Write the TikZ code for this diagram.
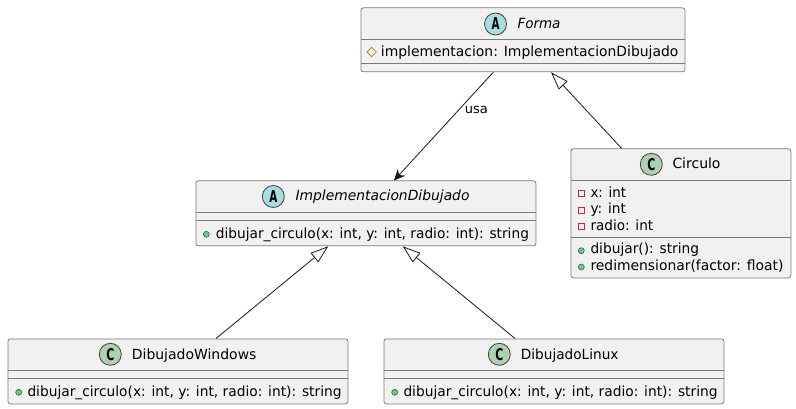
\documentclass[tikz,border=0pt]{standalone}
\usepackage{fontspec}
\usepackage{graphicx}
\setmainfont{DejaVu Sans}
\usetikzlibrary{calc,arrows.meta}
\definecolor{boxfill}{HTML}{F1F1F1}
\definecolor{boxline}{HTML}{7B7B7B}
\definecolor{absc}{HTML}{A9DCDF}
\definecolor{clsc}{HTML}{ADD1B2}
\definecolor{pubf}{HTML}{84BE84}
\definecolor{publ}{HTML}{038048}
\definecolor{privl}{HTML}{C82930}
\definecolor{protl}{HTML}{B38D22}
\definecolor{edgec}{HTML}{181818}
\newcommand{\fitw}[2]{\resizebox{#1pt}{\height}{#2}}
\newcommand{\badgeletter}[1]{\resizebox{8pt}{12pt}{\bfseries #1}}
\tikzset{
 x=1pt,y=-1pt,
 umlbox/.style={draw=boxline,fill=boxfill,line width=0.75pt,rounded corners=2.5pt,inner sep=0pt,anchor=north west},
 sepline/.style={draw=boxline,line width=0.75pt},
 badge/.style={circle,draw=black!75!white,line width=0.8pt,minimum size=22pt,inner sep=0pt},
 title/.style={font=\fontsize{14}{16}\selectfont,inner sep=0pt,anchor=base west,text=black},
 member/.style={font=\fontsize{14}{16}\selectfont,inner sep=0pt,anchor=base west,text=black},
 edge/.style={draw=edgec,line width=0.8pt},
 inherit/.style={edge,{Triangle[open,fill=white,length=18pt,width=12pt]}-},
 assoc/.style={edge,-{Stealth[length=11pt,width=10pt,inset=3.5pt]}},
 pubdot/.style={circle,draw=publ,fill=pubf,line width=0.6pt,minimum size=6pt,inner sep=0pt},
 privsq/.style={rectangle,draw=privl,line width=0.75pt,minimum size=6pt,inner sep=0pt},
 protdia/.style={draw=protl,line width=0.75pt},
}
\begin{document}
\begin{tikzpicture}
\useasboundingbox (0,0) rectangle (796,409);
% boxes
\node[umlbox,minimum width=324pt,minimum height=64pt] (forma) at (360.5,7.5) {};
\node[umlbox,minimum width=220pt,minimum height=129pt] (circulo) at (570.5,148.5) {};
\node[umlbox,minimum width=340pt,minimum height=65pt] (impl) at (195.5,180.5) {};
\node[umlbox,minimum width=340pt,minimum height=65pt] (win) at (7.5,338.5) {};
\node[umlbox,minimum width=340pt,minimum height=65pt] (lin) at (383.5,338.5) {};
% compartments
\draw[sepline] (360.5,39.5) -- (684.5,39.5) (360.5,63.5) -- (684.5,63.5);
\draw[sepline] (570.5,180.5) -- (790.5,180.5) (570.5,237.5) -- (790.5,237.5);
\draw[sepline] (195.5,212.5) -- (535.5,212.5) (195.5,220.5) -- (535.5,220.5);
\draw[sepline] (7.5,370.5) -- (347.5,370.5) (7.5,378.5) -- (347.5,378.5);
\draw[sepline] (383.5,370.5) -- (723.5,370.5) (383.5,378.5) -- (723.5,378.5);
% badges and titles
\node[badge,fill=absc] (bforma) at (495.5,24) {\badgeletter{A}};
\node[title,font=\fontsize{14}{16}\selectfont\itshape] (tforma) at (517.3,28.5) {\fitw{43}{Forma}};
\node[badge,fill=clsc] (bcirc) at (651.3,164.3) {\badgeletter{C}};
\node[title] (tcirc) at (672.3,169) {\fitw{48}{Circulo}};
\node[badge,fill=absc] (bimpl) at (273.3,196.5) {\badgeletter{A}};
\node[title,font=\fontsize{14}{16}\selectfont\itshape] (timpl) at (295.3,201) {\fitw{174}{ImplementacionDibujado}};
\node[badge,fill=clsc] (bwin) at (110.3,354.3) {\badgeletter{C}};
\node[title] (twin) at (131.7,359) {\fitw{124.5}{DibujadoWindows}};
\node[badge,fill=clsc] (blin) at (499.3,354.3) {\badgeletter{C}};
\node[title] (tlin) at (520.7,359) {\fitw{97.6}{DibujadoLinux}};
% members
\draw[protdia] (371.7,47.3) -- (376.4,52) -- (371.7,56.7) -- (367,52) -- cycle;
\node[member] (mforma) at (380.7,56.5) {\fitw{297.5}{implementacion: ImplementacionDibujado}};
\node[privsq] (p1) at (581.3,193.3) {};
\node[member] (m1) at (590.3,197) {\fitw{35.5}{x: int}};
\node[privsq] (p2) at (581.3,210) {};
\node[member] (m2) at (590.3,214) {\fitw{35.5}{y: int}};
\node[privsq] (p3) at (581.3,226.7) {};
\node[member] (m3) at (590.3,230.3) {\fitw{62.7}{radio: int}};
\node[pubdot] (p4) at (581.3,250.7) {};
\node[member] (m4) at (590.3,254) {\fitw{108.7}{dibujar(): string}};
\node[pubdot] (p5) at (581.3,267) {};
\node[member] (m5) at (590.3,270) {\fitw{193}{redimensionar(factor: float)}};
\node[pubdot] (p6) at (206.3,234.3) {};
\node[member] (m6) at (215.7,238) {\fitw{313}{dibujar\_circulo(x: int, y: int, radio: int): string}};
\node[pubdot] (p7) at (18.7,392.3) {};
\node[member] (m7) at (27.3,396) {\fitw{314}{dibujar\_circulo(x: int, y: int, radio: int): string}};
\node[pubdot] (p8) at (394.7,392.3) {};
\node[member] (m8) at (403.3,396) {\fitw{314}{dibujar\_circulo(x: int, y: int, radio: int): string}};
% connectors
\draw[assoc] ($(forma.south west)+(132.8,0)$) -- ($(impl.north west)+(198.5,0)$);
\node[font=\fontsize{13}{15}\selectfont,inner sep=0pt,anchor=base west] (usa) at (464.7,114) {usa};
\draw[inherit] ($(forma.south west)+(190.5,0)$) -- ($(circulo.north west)+(51.2,0)$);
\draw[inherit] ($(impl.south west)+(132.8,0)$) -- ($(win.north west)+(208.5,0)$);
\draw[inherit] ($(impl.south west)+(207.2,0)$) -- ($(lin.north west)+(131.5,0)$);
\end{tikzpicture}
\end{document}
